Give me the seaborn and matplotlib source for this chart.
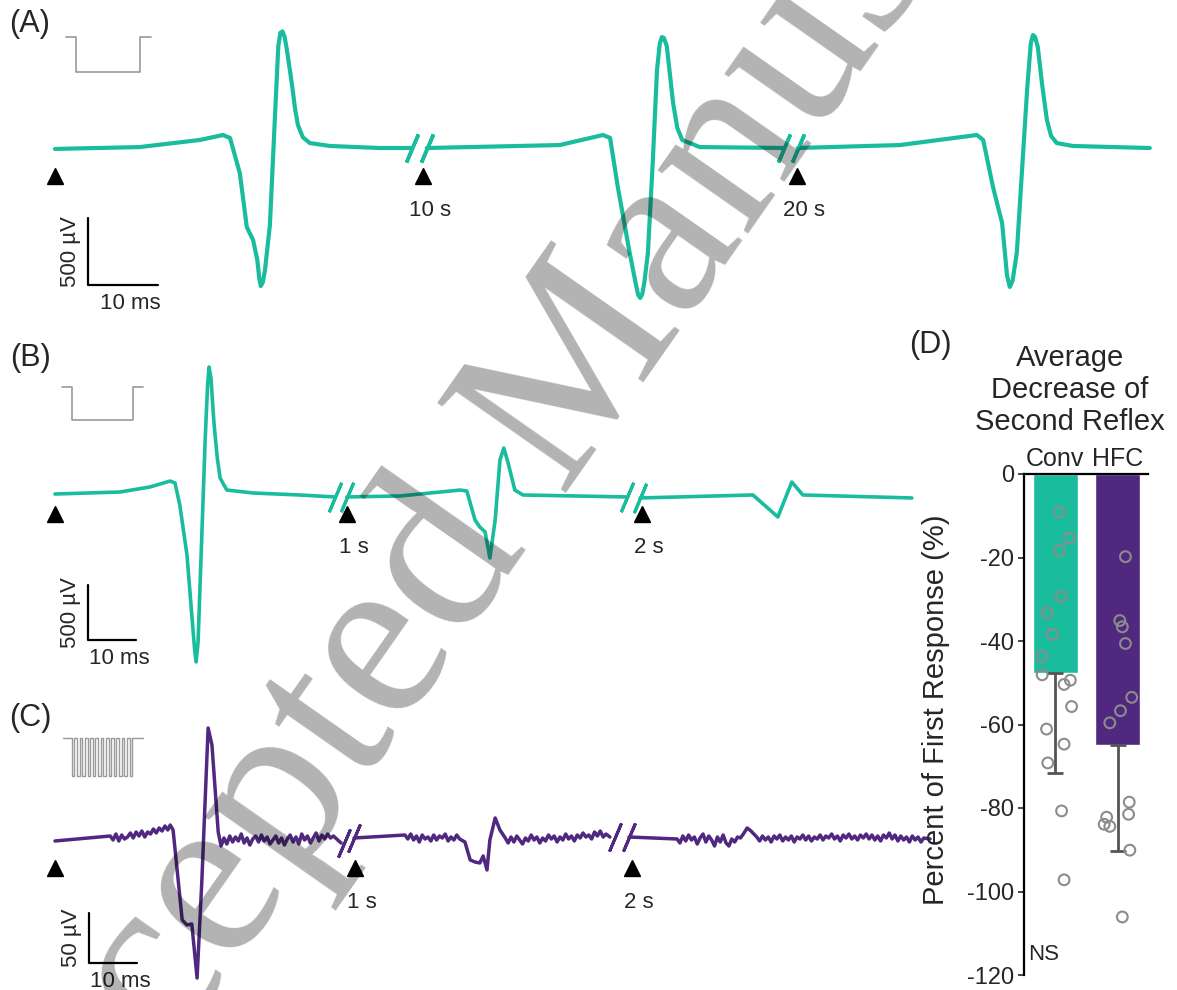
import numpy as np
import pandas as pd
import seaborn as sns
import matplotlib.pyplot as plt
from matplotlib import use

use('agg')

# ---- data ----
# panel A, time in ms (display time, breaks removed), amplitude in uV
a_seg1 = [(0.0, -7), (12.1, 7), (20.7, 60), (24.0, 97), (25.0, 75), (26.4, -187), (27.4, -590),
          (28.3, -687), (28.9, -836), (29.2, -980), (29.4, -1030), (29.7, -1000), (30.0, -910),
          (30.7, -575), (31.4, 209), (31.9, 760), (32.2, 860), (32.5, 870), (32.8, 830), (33.1, 740),
          (33.5, 600), (33.9, 455), (34.3, 290), (34.7, 172), (35.4, 80), (36.4, 37), (39.3, 15),
          (46.4, 0), (51.0, 0)]
a_seg2 = [(53.1, 0), (72.1, 22), (78.3, 97), (79.3, 75), (80.4, -291), (82.1, -783), (83.0, -1022),
          (83.3, -1095), (83.6, -1119), (83.9, -1090), (84.2, -1000), (84.7, -783), (85.4, -100),
          (86.0, 582), (86.4, 780), (86.7, 828), (87.0, 820), (87.4, 760), (88.3, 336), (88.9, 150),
          (89.6, 60), (92.1, 7), (104.1, 0)]
a_seg3 = [(106.1, 0), (120.7, 22), (131.7, 97), (132.6, 60), (134.0, -291), (135.3, -560),
          (136.0, -950), (136.4, -1037), (136.8, -990), (137.4, -783), (138.9, 455), (139.4, 780),
          (139.7, 843), (140.0, 830), (140.4, 754), (141.0, 480), (141.7, 209), (142.3, 90),
          (143.1, 37), (145.4, 15), (156.4, 0)]

# panel B
b_seg1 = [(0.0, 0), (13.5, 18), (19.8, 64), (24.0, 118), (25.0, 100), (26.0, -100), (27.5, -555),
          (28.5, -1100), (29.1, -1420), (29.4, -1527), (29.8, -1350), (30.2, -855), (31.3, 509),
          (31.8, 1000), (32.1, 1155), (32.5, 1050), (33.1, 655), (33.8, 330), (34.4, 145),
          (35.8, 36), (41.3, 9), (51.0, -9), (58.3, -27)]
b_seg2 = [(60.8, -27), (71.9, -18), (84.4, 36), (85.8, 27), (87.5, -236), (88.5, -300), (89.6, -345),
          (90.6, -582), (91.7, -236), (92.7, 309), (93.5, 418), (94.4, 282), (95.8, 36), (97.5, -9),
          (119.2, -27)]
b_seg3 = [(121.9, -36), (145.4, -9), (150.6, -209), (153.5, 109), (155.8, -9), (178.5, -36)]

# panel C (noisy HFC recording)
c_seg1 = [(0.0, -1), (11.5, 4), (12.1, 0), (12.7, 6), (13.3, -1), (13.9, 5), (14.5, 1), (15.1, 3),
          (15.7, 7), (16.3, 2), (16.9, 8), (17.5, 4), (18.1, 9), (18.7, 3), (19.3, 8), (19.9, 6),
          (20.5, 11), (21.1, 7), (21.7, 12), (22.3, 9), (22.9, 14), (23.5, 10), (24.0, 15), (24.6, 10),
          (26.5, -80), (27.5, -85), (28.5, -84), (29.6, -138), (30.6, -40), (31.9, 112), (32.7, 95),
          (34.0, 8), (34.6, -6), (35.2, 2), (35.8, -4), (36.4, 4), (37.0, -2), (37.6, 3), (38.2, -1),
          (38.8, 6), (39.4, -3), (40.0, 2), (40.6, -5), (41.2, 1), (41.8, 4), (42.4, -2), (43.0, 5),
          (43.6, -1), (44.2, 3), (44.8, -4), (45.4, 0), (46.0, 4), (46.6, -3), (47.2, 2), (47.8, -5),
          (48.4, 1), (49.0, 5), (49.6, -2), (50.2, 3), (50.8, -4), (51.4, 6), (52.0, 0), (52.6, 4),
          (53.2, -3), (53.8, 2), (54.4, 7), (55.0, -1), (55.6, 5), (56.2, 1), (56.8, 6), (57.4, 2),
          (58.0, 4), (59.6, -3)]
c_seg2 = [(62.3, 2), (72.9, 5), (73.5, 1), (74.1, 6), (74.7, 0), (75.3, 4), (75.9, -2), (76.5, 5),
          (77.1, 1), (77.7, 3), (78.3, -1), (78.9, 5), (79.5, 0), (80.1, 4), (80.7, 2), (81.3, 6),
          (81.9, -1), (82.5, 3), (83.1, 0), (83.7, 5), (84.3, 1), (85.4, -2), (86.5, -20), (87.5, -22),
          (88.5, -23), (89.2, -16), (90.0, -30), (90.6, 0), (91.7, 22), (92.7, 10), (93.8, 2),
          (94.4, -3), (95.0, 3), (95.6, -2), (96.2, 4), (96.8, 0), (97.4, -4), (98.0, 2), (98.6, -1),
          (99.2, 5), (99.8, 0), (100.4, 3), (101.0, -3), (101.6, 2), (102.2, -1), (102.8, 5),
          (103.4, 1), (104.0, 4), (104.6, -2), (105.2, 3), (105.8, 0), (106.4, 6), (107.0, 1),
          (107.6, 4), (108.2, -1), (108.8, 5), (109.4, 2), (110.0, 7), (110.6, 3), (111.2, 5),
          (111.8, 1), (112.4, 8), (113.0, 4), (113.6, 9), (114.2, 3), (114.8, 6), (115.6, 3)]
c_seg3 = [(119.6, 3), (129.6, 1), (130.2, -3), (130.8, 4), (131.4, -1), (132.0, 5), (132.6, 0),
          (133.2, 3), (133.8, -4), (134.4, 2), (135.0, 6), (135.6, -2), (136.2, 4), (136.8, 0),
          (137.4, -6), (138.0, 3), (138.6, -2), (139.2, 5), (139.8, -3), (140.4, -6), (141.0, 1),
          (141.6, -2), (142.2, 3), (142.8, 2), (143.4, 6), (144.2, 12), (145.0, 9), (146.2, 3),
          (146.8, -1), (147.4, 4), (148.0, 0), (148.6, 3), (149.2, -2), (149.8, 4), (150.4, 1),
          (151.0, 5), (151.6, -1), (152.2, 3), (152.8, 0), (153.4, 4), (154.0, -2), (154.6, 3),
          (155.2, 1), (155.8, 5), (156.4, 0), (157.0, 4), (157.6, -1), (158.2, 3), (158.8, 1),
          (159.4, 5), (160.0, 0), (160.6, 4), (161.2, 2), (161.8, 6), (162.4, 1), (163.0, 4),
          (163.6, -1), (164.2, 5), (164.8, 2), (165.4, 6), (166.0, 1), (166.6, 4), (167.2, 0),
          (167.8, 5), (168.4, 2), (169.0, 6), (169.6, 1), (170.2, 5), (170.8, 0), (171.4, 4),
          (172.0, -1), (172.6, 5), (173.2, 2), (173.8, 7), (174.4, 1), (175.0, 5), (175.6, -1),
          (176.2, 4), (176.8, 0), (177.4, 3), (178.0, -2), (178.6, 4), (179.2, 0), (179.8, 3),
          (180.4, -2), (181.0, 2), (182.3, 1)]

# break marks (pairs of slashes), stimulus arrows and interval labels
a_breaks = [51.0, 53.1, 104.1, 106.1]
b_breaks = [58.3, 60.8, 119.2, 121.9]
c_breaks = [60.2, 62.3, 116.7, 119.6]
a_arrows = [0.0, 52.6, 106.0]
b_arrows = [0.0, 60.8, 122.3]
c_arrows = [0.0, 62.5, 120.2]
a_intervals = ['10 s', '20 s']
bc_intervals = ['1 s', '2 s']

# panel D: percent of first response, per animal
conv_pct = [-9.1, -15.3, -18.3, -29.4, -33.3, -38.4, -43.7, -48.1, -49.4, -50.4, -55.7, -61.1,
            -64.7, -69.2, -80.7, -97.2]
conv_jitter = [0.07, 0.22, 0.07, 0.09, -0.13, -0.05, -0.22, -0.21, 0.24, 0.14, 0.26, -0.14,
               0.14, -0.12, 0.10, 0.14]
hfc_pct = [-19.8, -35.1, -36.6, -40.6, -53.5, -56.7, -59.6, -78.6, -81.5, -82.2, -83.9, -84.4,
           -90.1, -106.1]
hfc_jitter = [0.12, 0.03, 0.07, 0.12, 0.22, 0.04, -0.13, 0.18, 0.17, -0.18, -0.22, -0.13,
              0.19, 0.07]
groups = ['Conv', 'HFC']

TEAL = '#19BC9D'
PURPLE = '#50287F'

# ---- figure ----
sns.set_theme(style='white')
plt.rcParams['font.family'] = ['Liberation Sans', 'DejaVu Sans']
plt.rcParams['axes.unicode_minus'] = False

W, H = 1177, 990
fig = plt.figure(figsize=(W / 100, H / 100), dpi=100, facecolor='white')


def trace_axes(box, x0, ppms, y0, ppuv):
    """axes over a pixel box, scaled so that 1 ms = ppms px and 1 uV = ppuv px"""
    l, r, t, b = box
    ax = fig.add_axes([l / W, 1 - b / H, (r - l) / W, (b - t) / H])
    ax.set_xlim((l - x0) / ppms, (r - x0) / ppms)
    ax.set_ylim((y0 - b) / ppuv, (y0 - t) / ppuv)
    ax.axis('off')
    ax.patch.set_alpha(0)
    return ax


def draw_trace(ax, segments, breaks, arrows, arrow_v, intervals, color, lw, mark_size):
    for seg in segments:
        df = pd.DataFrame(seg, columns=['t', 'v'])
        sns.lineplot(data=df, x='t', y='v', ax=ax, color=color, lw=lw,
                     estimator=None, sort=False, clip_on=False)
    base = [pd.DataFrame(s, columns=['t', 'v'])['v'] for s in segments]
    for i, xb in enumerate(breaks):
        yb = base[i // 2 + (i % 2)].iloc[-1 if i % 2 == 0 else 0]
        ax.plot([xb], [yb], marker=(2, 2, -23), ms=mark_size, mew=lw * 0.85,
                color=color, ls='none', clip_on=False)
    ax.plot(arrows, [arrow_v] * len(arrows), ls='none', marker='^', ms=12,
            color='black', clip_on=False)
    for xa, lab in zip(arrows[1:], intervals):
        ax.annotate(lab, xy=(xa, arrow_v), xytext=(5, -17), textcoords='offset points',
                    ha='center', va='top', fontsize=16)


def scale_bar(ax, x, y, ms, uv, uv_label):
    ax.plot([x, x, x + ms], [y + uv, y, y], color='black', lw=1.6, clip_on=False)
    ax.annotate(uv_label, xy=(x, y + uv / 2), xytext=(-5, 0), textcoords='offset points',
                rotation=90, ha='right', va='center', fontsize=16)
    ax.annotate('10 ms', xy=(x + ms / 2, y), xytext=(5, -6), textcoords='offset points',
                ha='center', va='top', fontsize=16)


# panel A
ax_a = trace_axes((0, 1177, 0, 320), 55, 7.0, 148, 0.134)
draw_trace(ax_a, [a_seg1, a_seg2, a_seg3], a_breaks, a_arrows, -209, a_intervals, TEAL, 3.0, 22)
scale_bar(ax_a, 4.7, -1022, 10, 500, '500 µV')
ax_a.plot([1.6, 3.0, 3.0, 12.1, 12.1, 13.7], [828, 828, 567, 567, 828, 828],
          color='#9a9a9a', lw=1.2, clip_on=False)

# panel B
ax_b = trace_axes((0, 940, 320, 700), 55, 4.8, 494, 0.11)
draw_trace(ax_b, [b_seg1, b_seg2, b_seg3], b_breaks, b_arrows, -180, bc_intervals, TEAL, 2.6, 23)
scale_bar(ax_b, 6.9, -1327, 10, 500, '500 µV')
ax_b.plot([1.5, 3.5, 3.5, 16.3, 16.3, 18.3], [973, 973, 673, 673, 973, 973],
          color='#9a9a9a', lw=1.2, clip_on=False)

# panel C
ax_c = trace_axes((0, 940, 690, 990), 55, 4.8, 840, 1.0)
draw_trace(ax_c, [c_seg1, c_seg2, c_seg3], c_breaks, c_arrows, -28, bc_intervals, PURPLE, 2.5, 22)
scale_bar(ax_c, 7.1, -123, 10, 50, '50 µV')
n_pulses = 12
pt, pv = [1.7, 3.5], [102, 102]
for k in range(n_pulses):
    t0 = 3.5 + k * 1.094
    pt += [t0, t0, t0 + 0.55, t0 + 0.55]
    pv += [102, 64, 64, 102]
pt += [18.3]
pv += [102]
ax_c.plot(pt, pv, color='#9a9a9a', lw=1.0, clip_on=False)

# panel D
df_d = pd.DataFrame({
    'group': ['Conv'] * len(conv_pct) + ['HFC'] * len(hfc_pct),
    'pct': conv_pct + hfc_pct,
    'jitter': conv_jitter + hfc_jitter,
})
df_d['xpos'] = df_d['group'].map({g: i for i, g in enumerate(groups)}) + df_d['jitter']
stats = df_d.groupby('group')['pct'].agg(['mean', 'std']).loc[groups]

l, r, t, b = 1024, 1148, 474, 975
ax_d = fig.add_axes([l / W, 1 - b / H, (r - l) / W, (b - t) / H])
ax_d.patch.set_alpha(0)
sns.barplot(data=df_d, x='group', y='pct', hue='group', order=groups, hue_order=groups,
            palette=[TEAL, PURPLE], errorbar=None, width=0.72, saturation=1, legend=False, ax=ax_d)
ax_d.errorbar([0, 1], stats['mean'], yerr=[stats['std'], [0, 0]], fmt='none',
              ecolor='#555555', elinewidth=2, capsize=6, capthick=2, zorder=3)
sns.scatterplot(data=df_d, x='xpos', y='pct', ax=ax_d, s=60, facecolors='none',
                edgecolor='#8c8c8c', linewidth=1.5, zorder=4, legend=False)
ax_d.set_xlim(-0.5, 1.48)
ax_d.set_ylim(-120, 0)
ax_d.set_yticks(range(-120, 1, 20))
ax_d.set_xticks([0, 1])
ax_d.set_xticklabels(groups)
ax_d.xaxis.tick_top()
ax_d.tick_params(axis='x', length=0, labelsize=18, pad=2)
ax_d.tick_params(axis='y', left=True, direction='out', length=4, width=1.2, labelsize=17, pad=3)
for side in ['right', 'bottom']:
    ax_d.spines[side].set_visible(False)
for side in ['top', 'left']:
    ax_d.spines[side].set_color('black')
    ax_d.spines[side].set_linewidth(1.6)
ax_d.set_xlabel('')
ax_d.set_ylabel('Percent of First Response (%)', fontsize=21)
ax_d.yaxis.set_label_coords(-0.6, 0.53)
ax_d.text(-0.44, -115, 'NS', fontsize=16, ha='left', va='center')

fig.text(1070 / W, 1 - 390 / H, 'Average\nDecrease of\nSecond Reflex', ha='center', va='center',
         fontsize=21, linespacing=1.2)

# panel letters
for lab, (px, py) in {'(A)': (30, 24), '(B)': (30, 358), '(C)': (30, 718), '(D)': (930, 345)}.items():
    fig.text(px / W, 1 - py / H, lab, ha='center', va='center', fontsize=22)

# watermark
fig.text(551 / W, 1 - 413 / H, 'Accepted Manuscript', rotation=55, rotation_mode='anchor',
         ha='center', va='center', fontsize=172, family=['Liberation Serif', 'DejaVu Serif'],
         color='black', alpha=0.3, zorder=10)

plt.savefig('out.png', dpi=100)
